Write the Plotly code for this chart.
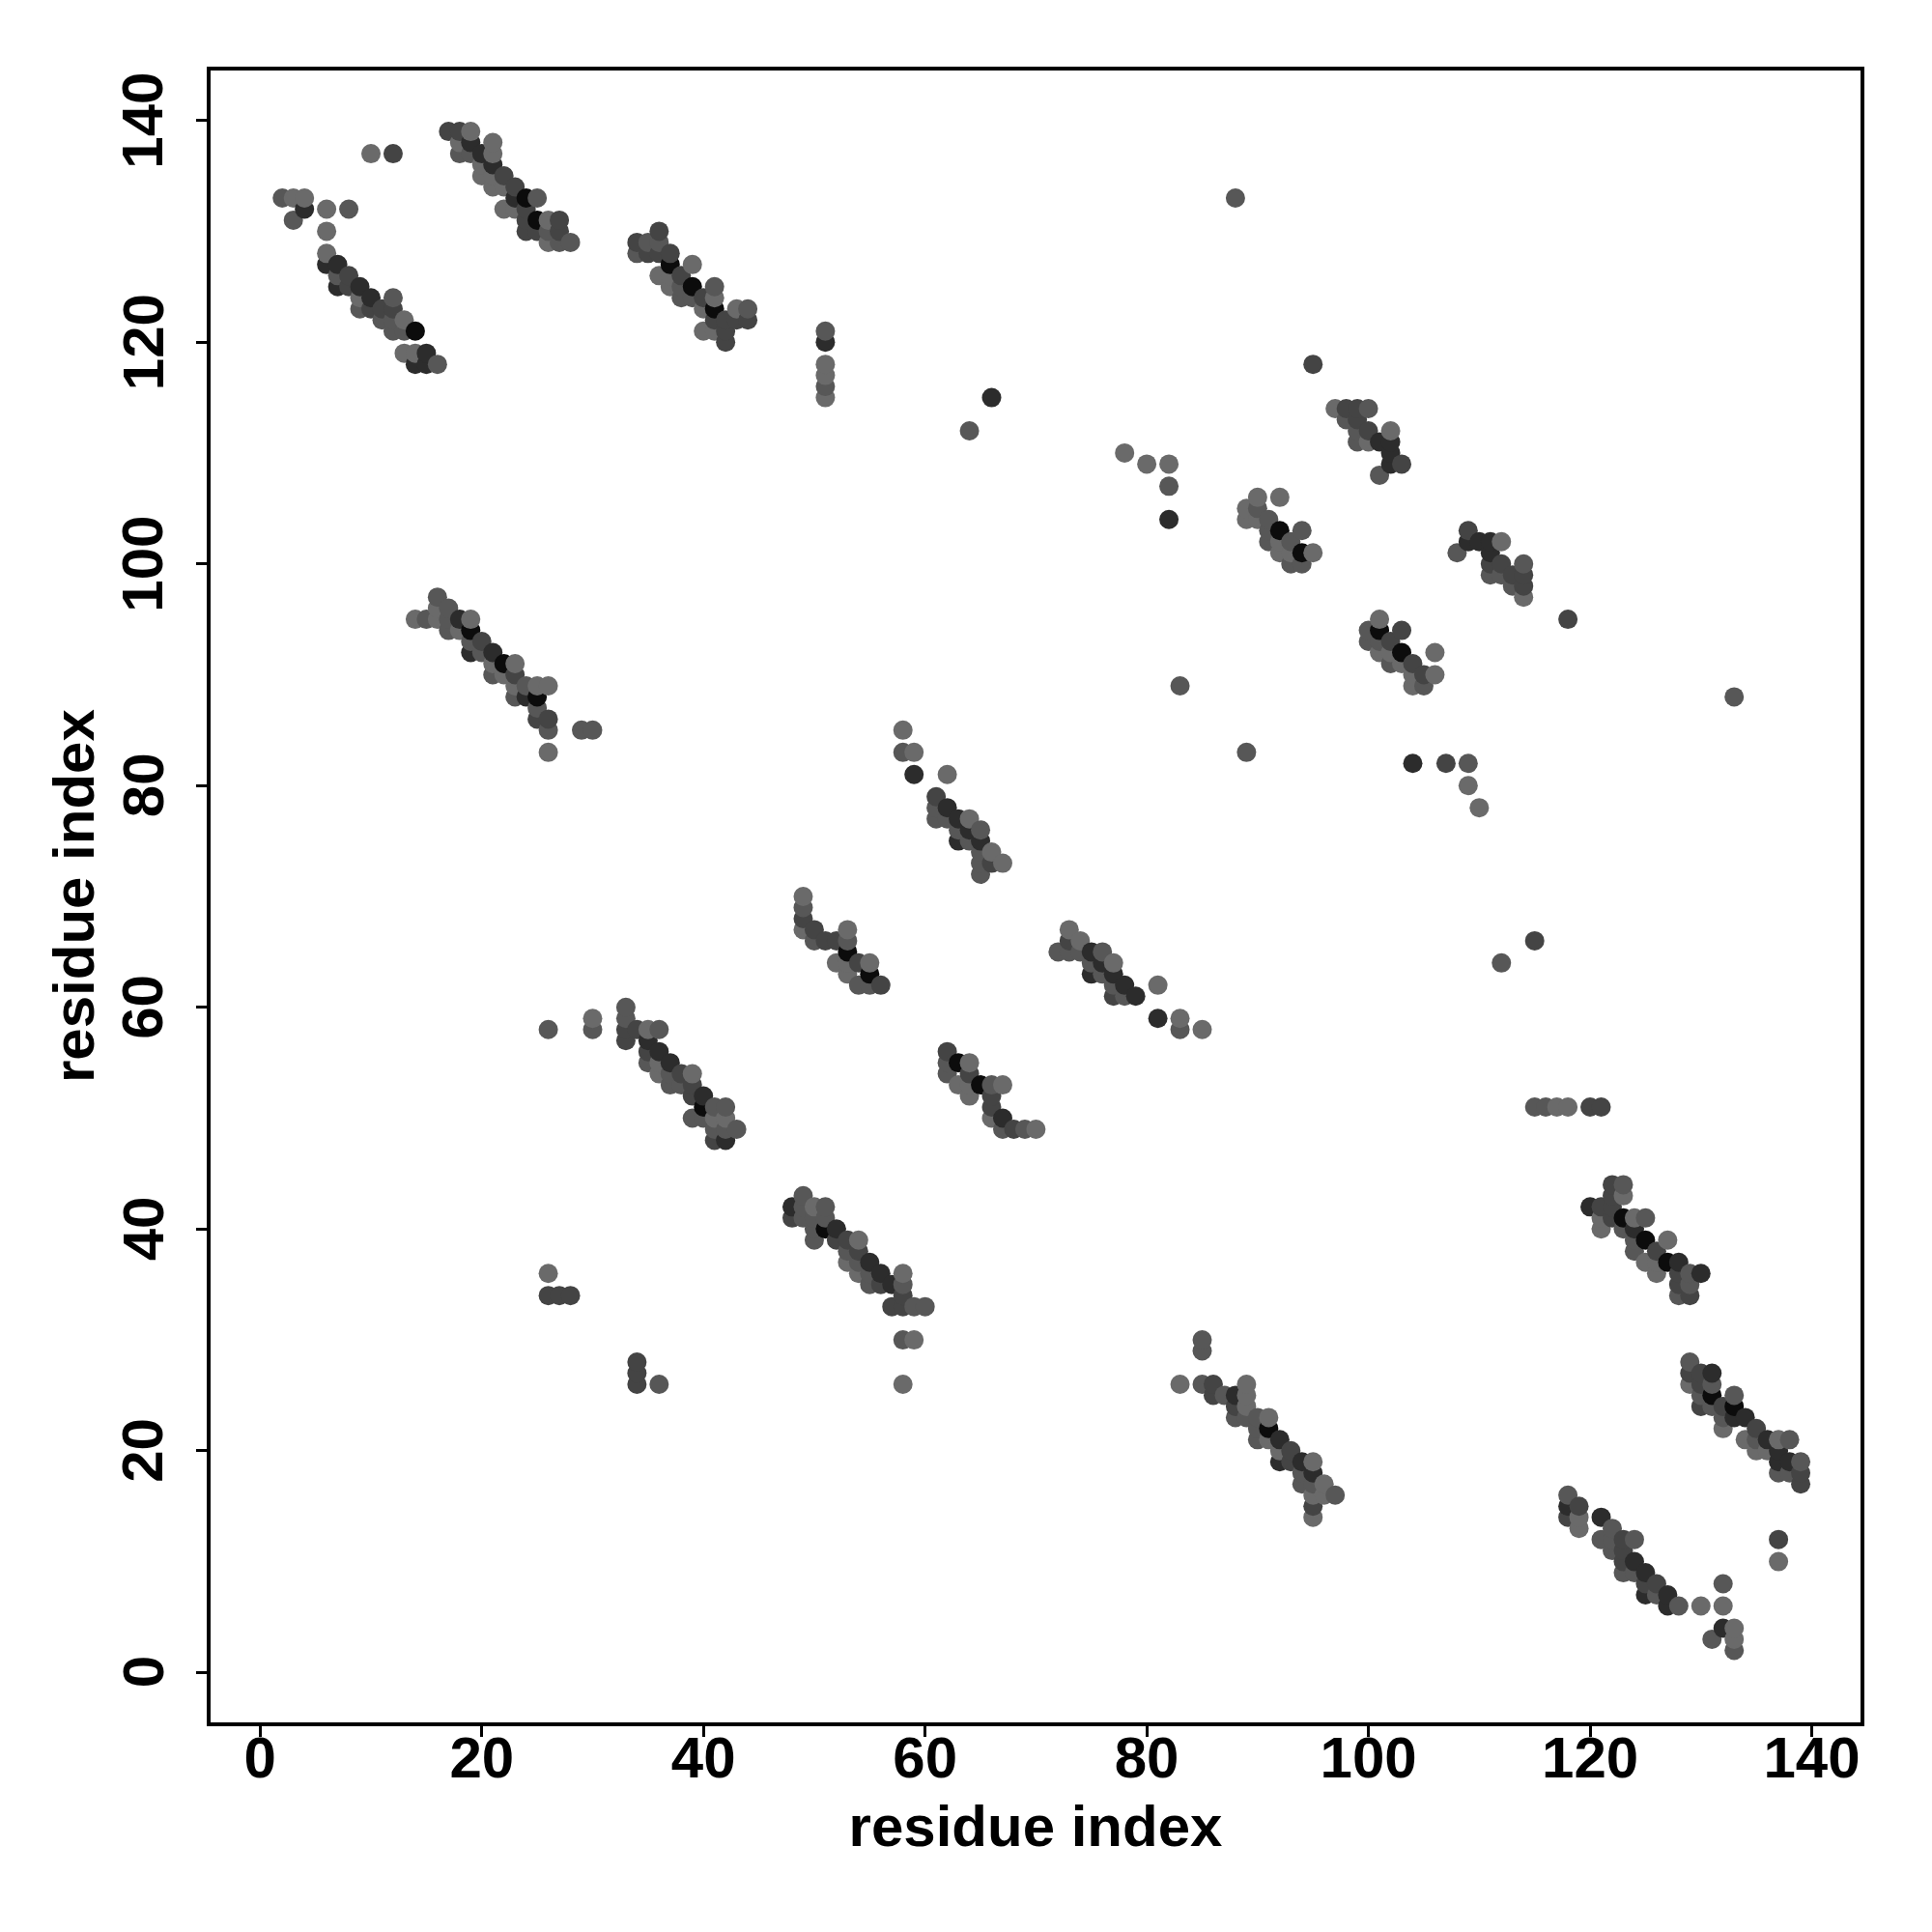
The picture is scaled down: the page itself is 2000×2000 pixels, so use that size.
import numpy as np
import plotly.graph_objects as go

X_LABEL = "residue index"
Y_LABEL = "residue index"
TICKS = [0, 20, 40, 60, 80, 100, 120, 140]
SHADES = [[0.0, "#6a6a6a"], [0.25, "#575757"], [0.5, "#444444"], [0.75, "#2c2c2c"], [1.0, "#0c0c0c"]]

a_x = [2,3,4, 4,6,8, 3, 6, 6, 6,7, 7,8, 7,8,9, 9,10,12, 9,10,11,12, 11,12,13, 12,13,14, 13,14,15, 14,15,16, 10,12]
a_y = [133,133,133, 132,132,132, 131, 130, 128, 127,127, 126,126, 125,125,125, 124,124,124, 123,123,123,123, 122,122,122, 121,121,121, 119,119,119, 118,118,118, 137,137]
a_w = [2,1,1, 4,1,2, 2, 1, 1, 4,4, 2,3, 4,3,4, 1,4,2, 2,3,3,3, 2,2,1, 2,2,5, 1,1,4, 4,4,2, 1,3]

b_x = [17,18,19, 18,19,21, 18,19,20,21, 20,21, 20,21,22, 21,22,23, 23,24,25, 22,23,24, 24,25,26,27, 24,25,26,27, 26,27,28]
b_y = [139,139,139, 138,138,138, 137,137,137,137, 136,136, 135,135,135, 134,134,134, 133,133,133, 132,132,132, 131,131,131,131, 130,130,130,130, 129,129,129]
b_w = [3,3,1, 1,4,1, 2,2,4,1, 1,4, 1,1,3, 1,1,3, 4,5,2, 1,1,3, 3,5,1,3, 3,3,2,3, 1,2,2]

c_x = [36, 34,35,36, 34,35,36,37, 37,39, 36,37,38, 37,38,39,41, 38,39,40,41, 40,41,43,44, 41,42,43,44, 40,41,42, 42]
c_y = [130, 129,129,129, 128,128,128,128, 127,127, 126,126,126, 125,125,125,125, 124,124,124,124, 123,123,123,123, 122,122,122,122, 121,121,121, 120]
c_w = [3, 3,2,2, 2,3,3,3, 5,1, 1,1,3, 1,2,5,2, 2,2,3,1, 1,5,1,2, 3,3,3,3, 1,1,3, 3]

d_x = [51,51,51,51,51,51, 66,64,95,88, 78,80,82,82,82, 83,89,133, 104,107,109,109,110, 115,112, 118]
d_y = [121,120,118,117,116,115, 115,112,118,133, 110,109,109,107,104, 89,83,88, 82,82,82,80,78, 66,64, 95]
d_w = [2,4,1,1,2,1, 4,2,3,2, 1,1,1,2,4, 2,2,2, 4,3,2,1,1, 3,2, 3]

e_x = [97,98,99,100, 98,99, 99,100,102, 99,100,101,102, 102, 102,103, 101]
e_y = [114,114,114,114, 113,113, 112,112,112, 111,111,111,111, 110, 109,109, 108]
e_w = [1,3,3,2, 2,3, 2,3,1, 2,1,4,4, 4, 4,3, 2]

f_x = [90,92, 89,90, 89,90,91, 91,92,94, 91,92,93, 92,93,94,95, 93,94]
f_y = [106,106, 105,105, 104,104,104, 103,103,103, 102,102,102, 101,101,101,101, 100,100]
f_w = [1,1, 1,2, 1,1,2, 2,5,2, 2,1,2, 1,1,5,1, 2,2]

g_x = [109, 109,110,111,112, 108,111, 111,112,114, 111,112,113,114, 113,114, 114]
g_y = [103, 102,102,102,102, 101,101, 100,100,100, 99,99,99,99, 98,98, 97]
g_w = [3, 4,4,4,1, 2,4, 3,3,2, 2,2,3,3, 2,3, 1]

h_x = [101, 100,101,103, 100,101,102, 101,102,103,106, 102,103,104, 104,105,106, 104,105]
h_y = [95, 94,94,94, 93,93,93, 92,92,92,92, 91,91,91, 90,90,90, 89,89]
h_w = [1, 2,5,3, 2,2,3, 1,1,5,1, 2,1,3, 1,3,1, 1,2]

i_x = [16, 16,17, 14,15,16,17,18,19, 17,18,19, 19,20, 19,20,21, 21,22,23, 21,22,23, 23,24,25,26, 23,24,25, 25, 25,26, 26,29,30, 26]
i_y = [97, 96,96, 95,95,95,95,95,95, 94,94,94, 93,93, 92,92,92, 91,91,91, 90,90,90, 89,89,89,89, 88,88,88, 87, 86,86, 85,85,85, 83]
i_w = [2, 1,2, 1,2,1,2,4,1, 2,1,5, 2,3, 4,2,4, 1,5,1, 2,1,3, 1,2,1,1, 2,4,5, 2, 3,3, 2,2,2, 1]

j_x = [58, 58,59, 59,62, 61, 61,62, 61,62,63,64, 63,64,65, 63,64,65, 65,66, 65,66,67, 65]
j_y = [85, 83,83, 81,81, 79, 78,78, 77,77,77,77, 76,76,76, 75,75,75, 74,74, 73,73,73, 72]
j_w = [1, 2,1, 4,1, 3, 2,4, 2,2,4,1, 2,4,2, 4,2,4, 2,1, 2,3,1, 2]

k_x = [49, 49, 49, 49,50,53, 50,51,52,53, 53, 52,53,54,55, 53,55, 54,55,56]
k_y = [70, 69, 68, 67,67,67, 66,66,66,66, 65, 64,64,64,64, 63,63, 62,62,62]
k_w = [1, 2, 3, 1,3,1, 2,3,3,2, 5, 1,1,3,1, 1,5, 2,2,3]

l_x = [73, 73,74, 72,73,74,75,76, 75,76,77, 75,76,77, 77,78,81, 77,78,79, 81,83, 83,85]
l_y = [67, 66,66, 65,65,65,65,65, 64,64,64, 63,63,63, 62,62,62, 61,61,61, 59,59, 58,58]
l_w = [1, 3,1, 2,2,2,4,2, 2,4,1, 4,2,4, 2,4,1, 3,2,4, 4,1, 2,1]

m_x = [62, 62,63,64, 62,64, 63,64,65,66,67, 64,66, 66, 66,67, 67,68,69,70]
m_y = [56, 55,55,55, 54,54, 53,53,53,53,53, 52,52, 51, 50,50, 49,49,49,49]
m_w = [3, 2,5,1, 2,3, 1,1,5,2,1, 1,3, 3, 1,4, 2,3,2,1]

n_x = [26, 30, 30,33,34,35,36, 33, 33, 33,35, 35,36, 35,36,37, 36,37,38,39, 37,38,39, 39,40, 40,41,42, 39,40,41,42, 41,42,43, 41,42]
n_y = [58, 59, 58,58,58,58,58, 60, 59, 57,57, 56,56, 55,55,55, 54,54,54,54, 53,53,53, 52,52, 51,51,51, 50,50,50,50, 49,49,49, 48,48]
n_w = [2, 1, 2,3,3,1,2, 2, 2, 3,4, 3,4, 2,1,4, 1,2,3,1, 2,2,3, 3,4, 5,2,2, 2,2,1,1, 2,2,2, 3,4]

o_x = [49, 48,49,50,51, 48,49,50,51, 50,51,52, 50,52,53,54, 53,54, 53,54,55, 54,55,56,58, 55,56,57,58, 58, 57,58,59,60, 58,59, 58]
o_y = [43, 42,42,42,42, 41,41,41,41, 40,40,40, 39,39,39,39, 38,38, 37,37,37, 36,36,36,36, 35,35,35,35, 34, 33,33,33,33, 30,30, 26]
o_w = [2, 4,2,1,2, 3,2,2,2, 2,5,4, 2,3,3,1, 2,3, 1,2,4, 1,2,4,1, 2,3,4,2, 3, 3,3,2,2, 2,1, 1]

p_x = [26,26,27,28, 34,34,34,36, 115,116,117,118,120,121]
p_y = [36,34,34,34, 28,27,26,26, 51,51,51,51,51,51]
p_w = [1,3,3,3, 3,3,3,2, 2,2,1,1,3,3]

q_x = [85, 85, 83,85,86,89, 86,87,88,89, 88,89, 88,89,90,91, 90,91, 90,91,92, 92,93, 92,93,94,95, 94,95, 94,95,96, 95,96,97, 95, 95]
q_y = [30, 29, 26,26,26,26, 25,25,25,25, 24,24, 23,23,23,23, 22,22, 21,21,21, 20,20, 19,19,19,19, 18,18, 17,17,17, 16,16,16, 15, 14]
q_w = [2, 2, 1,2,3,1, 3,2,4,1, 3,1, 2,2,2,1, 2,5, 2,1,4, 1,3, 4,3,4,1, 2,4, 2,2,1, 1,1,2, 3, 1]

r_x = [122,123, 122,123, 120,121,122, 121,122,123,124,125, 121,123,124, 124,125,127, 124,126, 125,126,127,128, 126,128,129,130, 128,129, 128,129]
r_y = [44,44, 43,43, 42,42,42, 41,41,41,41,41, 40,40,40, 39,39,39, 38,38, 37,37,37,37, 36,36,36,36, 35,35, 34,34]
r_w = [3,2, 3,1, 4,3,3, 1,3,5,1,2, 1,2,4, 2,5,1, 2,3, 1,1,5,4, 1,3,2,4, 3,2, 2,3]

s_x = [129, 129,130,131, 129,130,131, 130,131,133, 130,131,132,133, 132,133,134, 132,135, 134,135,136,137,138, 135,136,137, 137,138,139, 137,138,139, 139]
s_y = [28, 27,27,27, 26,26,26, 25,25,25, 24,24,24,24, 23,23,23, 22,22, 21,21,21,21,21, 20,20,20, 19,19,19, 18,18,18, 17]
s_w = [2, 3,3,4, 1,3,2, 2,5,2, 3,2,3,5, 2,4,4, 1,3, 1,2,4,1,2, 1,1,4, 4,4,2, 2,2,3, 3]

t_x = [118, 118,119, 118,119,121, 119,122, 121,122,123,124, 122,123, 123,124, 123,124,125, 125,126,132, 125,126,127, 127,128,130,132, 132,133, 131,133, 133, 137,137]
t_y = [16, 15,15, 14,14,14, 13,13, 12,12,12,12, 11,11, 10,10, 9,9,9, 8,8,8, 7,7,7, 6,6,6,6, 4,4, 3,3, 2, 12,10]
t_w = [2, 4,3, 3,1,4, 1,2, 2,2,3,2, 2,3, 3,4, 2,2,4, 3,3,2, 4,2,4, 4,2,1,1, 4,1, 2,1, 2, 3,1]

xs = np.array(a_x+b_x+c_x+d_x+e_x+f_x+g_x+h_x+i_x+j_x+k_x+l_x+m_x+n_x+o_x+p_x+q_x+r_x+s_x+t_x)
ys = np.array(a_y+b_y+c_y+d_y+e_y+f_y+g_y+h_y+i_y+j_y+k_y+l_y+m_y+n_y+o_y+p_y+q_y+r_y+s_y+t_y)
ws = np.array(a_w+b_w+c_w+d_w+e_w+f_w+g_w+h_w+i_w+j_w+k_w+l_w+m_w+n_w+o_w+p_w+q_w+r_w+s_w+t_w)
order = np.lexsort((ys, xs))

fig = go.Figure(go.Scatter(
    x=xs[order], y=ys[order], mode="markers", showlegend=False, hoverinfo="skip",
    marker=dict(size=20, color=ws[order], colorscale=SHADES, cmin=1, cmax=5, showscale=False, line=dict(width=0)),
))

font_ticks = dict(family="Liberation Sans", size=60, color="black", weight=700)
font_title = dict(family="Liberation Sans", size=60, color="black", weight=700)
axis = dict(
    tickmode="array", tickvals=TICKS, ticktext=[str(t) for t in TICKS],
    showgrid=False, zeroline=False, showline=True, mirror=True, linecolor="black", linewidth=3.5,
    ticks="outside", ticklen=11, tickwidth=3, tickcolor="black", tickfont=font_ticks,
)
annotations = [
    dict(text=str(t), x=0, xref="paper", y=t, yref="y", xshift=-70, textangle=-90,
         showarrow=False, xanchor="center", yanchor="middle", font=font_ticks)
    for t in TICKS
]
annotations.append(dict(text=Y_LABEL, x=0, xref="paper", y=0.5, yref="paper", xshift=-142, textangle=-90,
                        showarrow=False, xanchor="center", yanchor="middle", font=font_title))
fig.update_layout(
    width=2000, height=2000, autosize=False, paper_bgcolor="white", plot_bgcolor="white",
    margin=dict(l=210, r=82, t=65, b=225),
    xaxis=dict(axis, range=[-4.47, 144.4], ticklabelstandoff=-30, title=dict(text=X_LABEL, font=font_title, standoff=18)),
    yaxis=dict(axis, range=[-4.5, 144.5], showticklabels=False),
    annotations=annotations,
)
fig.write_html("out.html")
